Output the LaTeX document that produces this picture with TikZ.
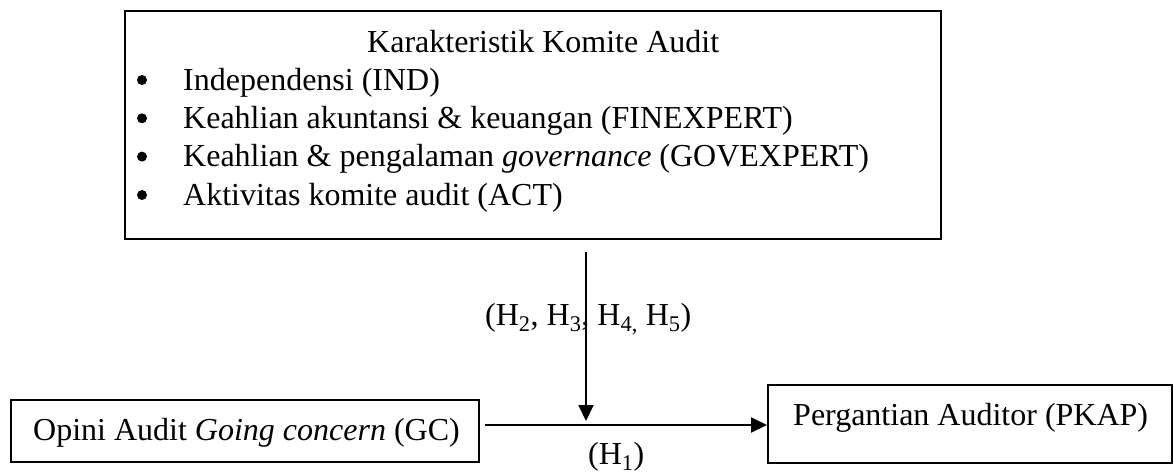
\documentclass[tikz,border=0pt]{standalone}
\usepackage{fontspec}
\setmainfont{Liberation Serif}
\usetikzlibrary{arrows.meta}

\begin{document}
\begin{tikzpicture}[x=1pt,y=-1pt,
  box/.style={draw, line width=2pt, inner sep=0pt, anchor=north west},
  txt/.style={anchor=base west, inner sep=0pt, font=\fontsize{32}{38}\selectfont},
  dot/.style={circle, fill=black, inner sep=0pt, minimum size=10pt},
  link/.style={line width=2pt, -{Triangle[length=16pt,width=15pt]}}
]
\useasboundingbox (0,0) rectangle (1173,474);

% audit committee characteristics box
\node[box, minimum width=816pt, minimum height=228pt] (kar) at (124,10) {};
\node[txt] (title) at (367,52) {Karakteristik Komite Audit};
\node[dot] (b1) at (142,80) {};
\node[txt] (i1) at (183,90) {Independensi (IND)};
\node[dot] (b2) at (142,118.3) {};
\node[txt] (i2) at (183,128.3) {Keahlian akuntansi \& keuangan (FINEXPERT)};
\node[dot] (b3) at (142,156.6) {};
\node[txt] (i3) at (183,166.6) {Keahlian \& pengalaman \textit{governance} (GOVEXPERT)};
\node[dot] (b4) at (142,195) {};
\node[txt] (i4) at (183,205) {Aktivitas komite audit (ACT)};

% independent and dependent variables
\node[box, minimum width=468pt, minimum height=62pt] (gc) at (10,399) {};
\node[txt] (gct) at (33,440) {Opini Audit \textit{Going concern} (GC)};
\node[box, minimum width=404pt, minimum height=78pt] (pkap) at (767,384) {};
\node[txt] (pkapt) at (793,425) {Pergantian Auditor (PKAP)};

% paths
\coordinate (gcout) at (485,425);
\coordinate (modtop) at (586,252);
\coordinate (modend) at (586,421);
\draw[link] (gcout) -- (gcout -| pkap.west);
\draw[link] (modtop) -- (modend);

% hypothesis labels
\node[txt] (h25) at (485,325) {(H\textsubscript{2}, H\textsubscript{3}, H\textsubscript{4,} H\textsubscript{5})};
\node[txt] (h1) at (588,464) {(H\textsubscript{1})};
\end{tikzpicture}
\end{document}
